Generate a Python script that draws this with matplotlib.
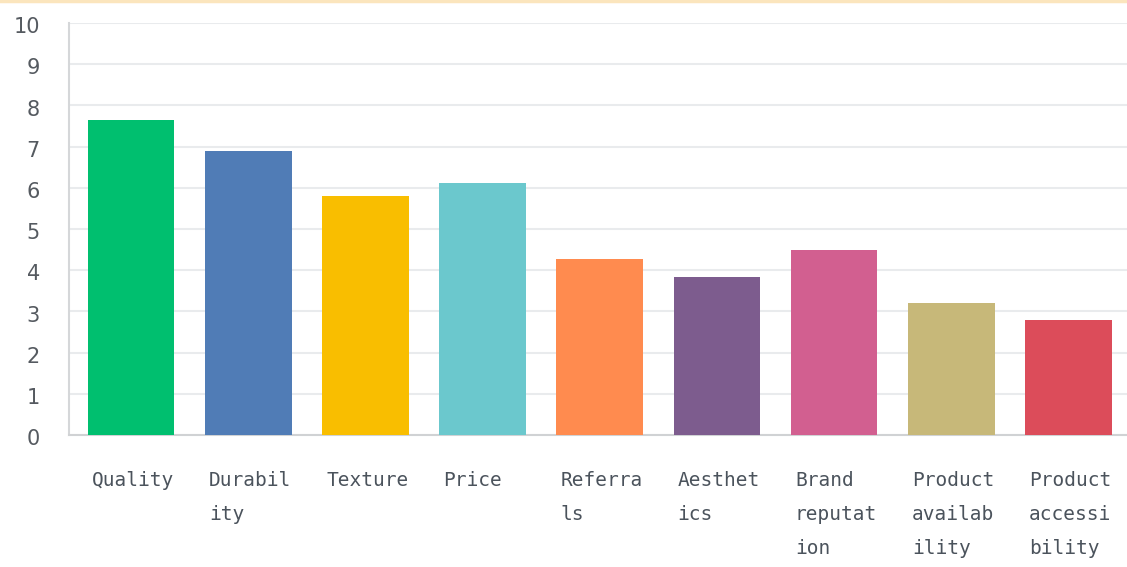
import matplotlib
matplotlib.use("Agg")
import matplotlib.pyplot as plt
import matplotlib.transforms as mtransforms
from matplotlib.lines import Line2D

categories = ["Quality", "Durability", "Texture", "Price", "Referrals",
              "Aesthetics", "Brand reputation", "Product availability",
              "Product accessibility"]
values = [7.64, 6.89, 5.79, 6.11, 4.28, 3.84, 4.48, 3.21, 2.80]
colors = ["#00bf6f", "#507cb6", "#f9be00", "#6bc8cd", "#ff8b4f",
          "#7d5c8e", "#d25f90", "#c7b879", "#dc4c5a"]
yticks = list(range(0, 11))


def wrap(label, n=7):
    lines = []
    for word in label.split(" "):
        while len(word) > n:
            lines.append(word[:n])
            word = word[n:]
        lines.append(word)
    return "\n".join(lines)


fig = plt.figure(figsize=(11.27, 5.67), dpi=100)
fig.patch.set_facecolor("white")
ax = fig.add_axes([0.0612, 0.2328, 0.9388, 0.7266])

width = 0.74
x = list(range(len(categories)))
ax.bar(x, values, width=width, color=colors, zorder=3)

ax.set_xlim(-0.53, 8.5)
ax.set_ylim(0, 10)
ax.set_yticks(yticks)
ax.set_yticklabels([str(t) for t in yticks], fontsize=15, color="#555a60",
                   fontfamily="DejaVu Sans")
ax.tick_params(axis="y", length=0, pad=21)
shift = mtransforms.ScaledTranslation(0, -3 / 72, fig.dpi_scale_trans)
for lab in ax.get_yticklabels():
    lab.set_horizontalalignment("right")
    lab.set_verticalalignment("center")
    lab.set_transform(lab.get_transform() + shift)
ax.set_xticks([])
ax.grid(axis="y", color="#e9ebed", linewidth=1.5, zorder=0)
for s in ["top", "right"]:
    ax.spines[s].set_visible(False)
ax.spines["left"].set_color("#d5d7d9")
ax.spines["left"].set_linewidth(1.5)
ax.spines["bottom"].set_color("#d0d2d4")
ax.spines["bottom"].set_linewidth(1.5)

for i, cat in enumerate(categories):
    ax.annotate(wrap(cat), xy=(i - width / 2, 0), xycoords=("data", "axes fraction"),
                xytext=(3, -26), textcoords="offset points",
                ha="left", va="top", fontsize=14, color="#4b535c",
                fontfamily="DejaVu Sans Mono", linespacing=2.0)

# faint top border line
fig.add_artist(Line2D([0, 1], [0.998, 0.998], transform=fig.transFigure,
                      color="#fbe5bd", linewidth=2.5))

fig.savefig("out.png", dpi=100, facecolor="white")
